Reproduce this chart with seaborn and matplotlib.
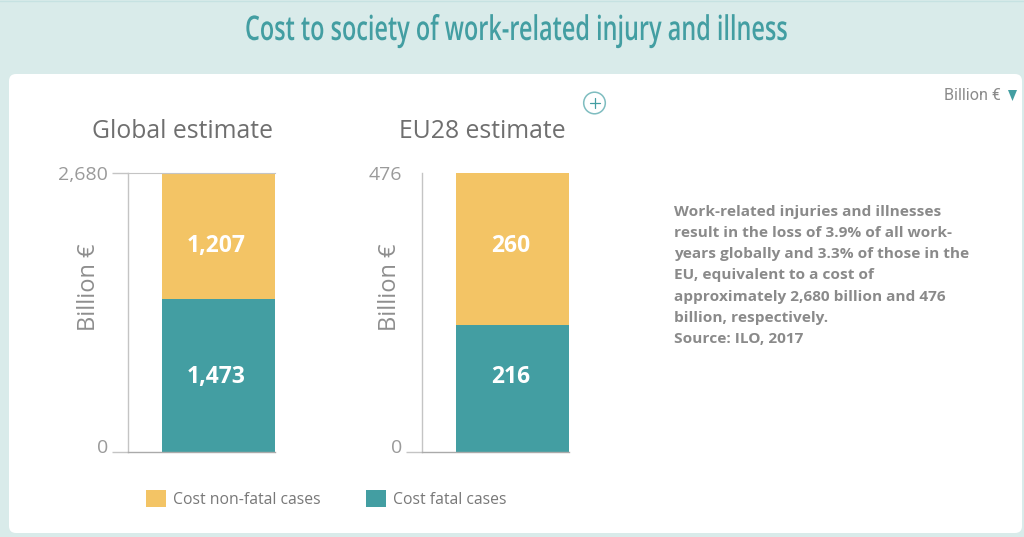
import matplotlib
matplotlib.use('Agg')
import matplotlib.pyplot as plt
from matplotlib.patches import FancyBboxPatch, Circle, Patch, Polygon
from matplotlib.patheffects import AbstractPathEffect
from matplotlib.transforms import Affine2D, ScaledTranslation
import seaborn as sn

sn.set_style('white')
plt.rcParams['font.family'] = ['Open Sans', 'DejaVu Sans']

panels = ['Global estimate', 'EU28 estimate']
fatal = [1473, 216]
non_fatal = [1207, 260]
totals = [2680, 476]
total_labels = ['2,680', '476']
fatal_labels = ['1,473', '216']
non_fatal_labels = ['1,207', '260']

TEAL = '#439ea2'
YELLOW = '#f3c465'
BG = '#d9ebea'
W, H = 1024, 537


# the title font is a condensed one, no such family here so squeeze the glyphs
class Squeeze(AbstractPathEffect):
    def __init__(self, factor, cx):
        super().__init__()
        self.factor = factor
        self.cx = cx

    def draw_path(self, renderer, gc, tpath, affine, rgbFace=None):
        squeeze = Affine2D().translate(-self.cx, 0).scale(self.factor, 1).translate(self.cx, 0)
        renderer.draw_path(gc, tpath, affine + squeeze, rgbFace)


fig = plt.figure(figsize=(W / 100, H / 100), dpi=100, facecolor=BG)

# pixel canvas for the page furniture
bg = fig.add_axes([0, 0, 1, 1])
bg.set_xlim(0, W)
bg.set_ylim(H, 0)
bg.axis('off')
bg.plot([0, W], [0.5, 0.5], color='#c6e2e2', lw=1)
bg.add_patch(FancyBboxPatch((9, 74), 1013, 459, boxstyle='round,pad=0,rounding_size=7',
                            fc='white', ec='none'))
title = bg.text(516, 31, 'Cost to society of work-related injury and illness', color=TEAL,
                fontsize=24.5, fontweight='semibold', ha='center', va='center')
title_w = title.get_window_extent(fig.canvas.get_renderer()).width
title.set_path_effects([Squeeze(542 / title_w, 516)])

# the plus button and the unit selector
bg.add_patch(Circle((594.5, 103), 10.8, fc='white', ec='#7fbdc0', lw=1.1))
bg.plot([589.5, 599.5], [103, 103], color=TEAL, lw=0.9)
bg.plot([594.5, 594.5], [98, 108], color=TEAL, lw=0.9)
bg.text(1001, 95, 'Billion €', color='#8a8a8a', fontsize=11.6, ha='right', va='center', family=['Roboto'])
bg.add_patch(Polygon([(1008, 90), (1017, 90), (1012.5, 101)], fc=TEAL, ec='none'))

note = ('Work-related injuries and illnesses\n'
        'result in the loss of 3.9% of all work-\n'
        'years globally and 3.3% of those in the\n'
        'EU, equivalent to a cost of\n'
        'approximately 2,680 billion and 476\n'
        'billion, respectively.\n'
        'Source: ILO, 2017')
bg.text(674, 275.5, note, color='#8a8a8a', fontsize=11.1, fontweight='bold', ha='left', va='center',
        linespacing=1.645)

axis_x = [128, 422]
for i, name in enumerate(panels):
    left = axis_x[i]
    ax = fig.add_axes([left / W, 1 - 452 / H, 147 / W, 279 / H])
    ax.patch.set_alpha(0)
    sn.barplot(x=[name], y=[fatal[i]], color=TEAL, width=1, saturation=1, linewidth=0, ax=ax)
    sn.barplot(x=[name], y=[non_fatal[i]], bottom=[fatal[i]], color=YELLOW, width=1, saturation=1,
               linewidth=0, ax=ax)
    ax.set_xlim(-0.5 - 34 / 113, 0.5)
    ax.set_ylim(0, totals[i])
    ax.set_xticks([])
    ax.set_xlabel('')
    ax.set_ylabel('')
    ax.set_yticks([0, totals[i]], ['0', total_labels[i]])
    ax.tick_params(axis='y', length=11.5, width=1, color='#c4c4c4', labelcolor='#9a9a9a',
                   labelsize=14, pad=3, left=True)
    sn.despine(ax=ax, top=True, right=True)
    ax.spines['left'].set_color('#c4c4c4')
    ax.spines['bottom'].set_color('#aaaaaa')
    ax.spines['left'].set_linewidth(1)
    ax.spines['bottom'].set_linewidth(1)

    # the 0 sits a bit above its tick
    zero = ax.get_yticklabels()[0]
    zero.set_transform(zero.get_transform() + ScaledTranslation(0, 6 / 72 * 0.72, fig.dpi_scale_trans))

    if i == 0:
        # global chart has a line over the top of the bar
        ax.spines['top'].set_visible(True)
        ax.spines['top'].set_color('#c4c4c4')
    else:
        ax.yaxis.get_major_ticks()[1].tick1line.set_visible(False)

    label_tf = ax.get_xaxis_transform()
    ax.text(-2 / 113, 75 / 279, fatal_labels[i], color='white', fontsize=16.5, fontweight='bold',
            ha='center', va='center', transform=label_tf)
    ax.text(-2 / 113, 206 / 279, non_fatal_labels[i], color='white', fontsize=16.5,
            fontweight='bold', ha='center', va='center', transform=label_tf)
    bg.text([182, 482.5][i], 131, name, color='#6f6f6f', fontsize=17.8, ha='center', va='center')
    bg.text([89, 390][i], 287.5, 'Billion €', color='#8e8e8e', fontsize=17, rotation=90,
            ha='center', va='center')

handles = [Patch(fc=YELLOW, ec='none'), Patch(fc=TEAL, ec='none')]
fig.legend(handles, ['Cost non-fatal cases', 'Cost fatal cases'], ncol=2, frameon=False,
           loc='center left', bbox_to_anchor=(146 / W, 1 - 499 / H), fontsize=11.3, labelcolor='#787878',
           handlelength=1.27, handleheight=1.27, columnspacing=2.87, handletextpad=0.45,
           borderpad=0, borderaxespad=0)

plt.savefig('out.png', dpi=100, facecolor=BG)
